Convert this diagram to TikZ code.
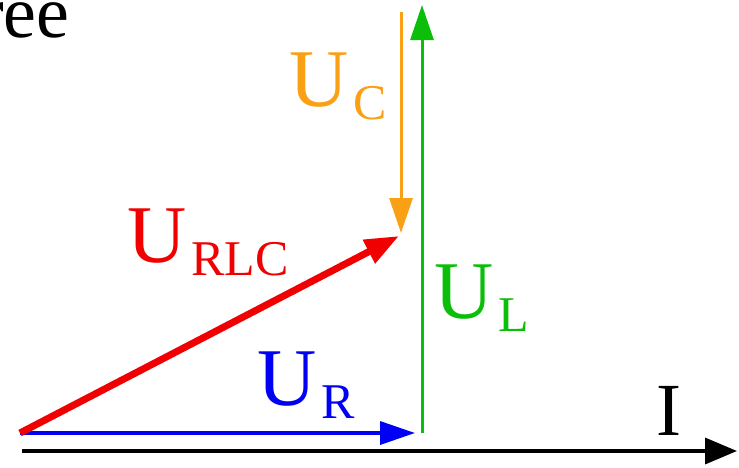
\documentclass[tikz,border=0pt]{standalone}
\usepackage{fontspec}
\setmainfont{Liberation Serif}
\usepackage{xcolor}
\usetikzlibrary{arrows.meta}
\definecolor{phasorblue}{RGB}{0,0,245}
\definecolor{phasorgreen}{RGB}{10,190,10}
\definecolor{phasororange}{RGB}{250,160,20}
\definecolor{phasorred}{RGB}{240,0,0}
\newcommand{\vsub}[1]{\hspace{5pt}\raisebox{-13pt}{\fontsize{50}{50}\selectfont #1}}

\begin{document}
\begin{tikzpicture}[
  x=1pt, y=-1pt,
  vlab/.style={font=\fontsize{82}{82}\selectfont, inner sep=0pt, anchor=base west},
  phasor/.style={-{Triangle[length=35pt, width=23pt]}, line width=3.5pt},
  axis/.style={-{Triangle[length=32pt, width=26pt]}, line width=3.5pt, black}
]
\useasboundingbox (0,0) rectangle (739,467);

% Cut-off caption text
\node[font=\fontsize{74}{74}\selectfont, inner sep=0pt, anchor=base west] (caption) at (-21,37) {ree};

% Points of the phasor diagram
\coordinate (origin) at (20,433);
\coordinate (axisstart) at (22,451);
\coordinate (axisend) at (737,451);
\coordinate (rend) at (415,433);
\coordinate (lstart) at (422,433);
\coordinate (lend) at (422,5);
\coordinate (cstart) at (401,12);
\coordinate (cend) at (401,233);
\coordinate (rlcend) at (399,236);

% Current axis
\draw[axis] (axisstart) -- (axisend);
\node[font=\fontsize{75}{75}\selectfont, inner sep=0pt, anchor=base west] (ilab) at (656,435) {I};

% U_R
\draw[phasor, phasorblue] (origin) -- (rend);
\node[vlab, phasorblue] (urlab) at (257,405) {U\vsub{R}};

% U_L
\draw[phasor, phasorgreen, line width=3pt] (lstart) -- (lend);
\node[vlab, phasorgreen] (ullab) at (434,318) {U\vsub{L}};

% U_C
\draw[phasor, phasororange, line width=3pt] (cstart) -- (cend);
\node[vlab, phasororange] (uclab) at (289,106) {U\vsub{C}};

% U_RLC
\draw[phasor, phasorred, line width=7pt, -{Triangle[length=34pt, width=25pt]}] (origin) -- (rlcend);
\node[vlab, phasorred] (urlclab) at (127,262) {U\vsub{RLC}};

\end{tikzpicture}
\end{document}
